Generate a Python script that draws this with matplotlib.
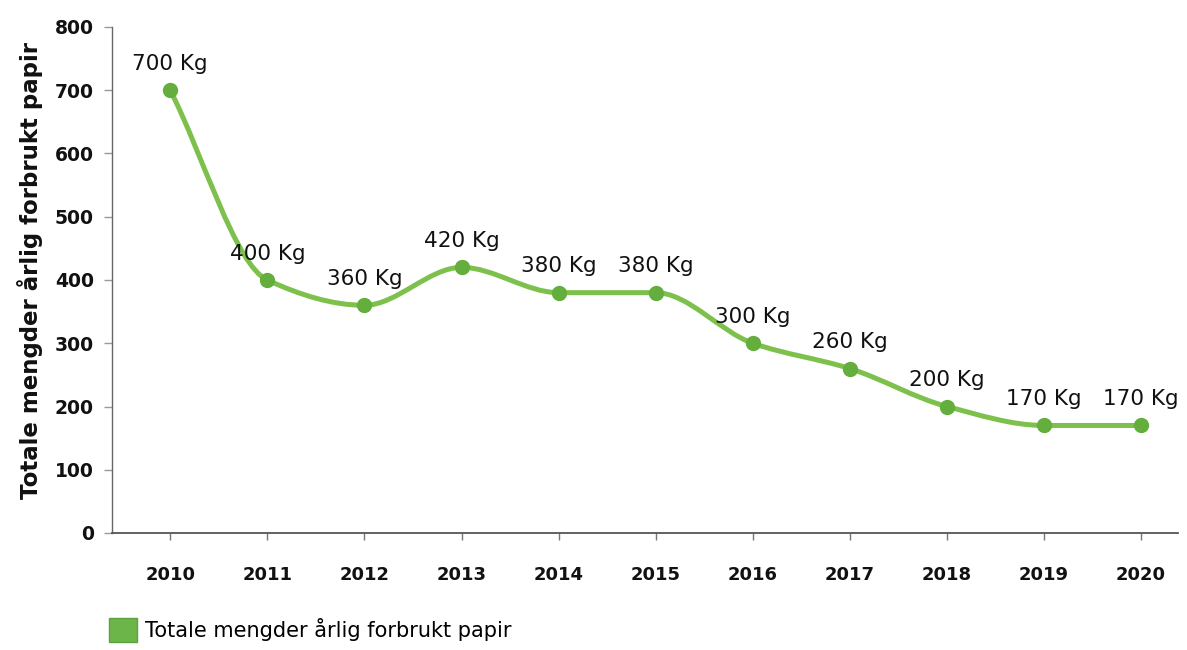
import numpy as np
import matplotlib
matplotlib.use("Agg")
import matplotlib.pyplot as plt
from matplotlib.path import Path
from matplotlib.patches import PathPatch, Patch

years = ["2010", "2011", "2012", "2013", "2014", "2015", "2016", "2017", "2018", "2019", "2020"]
values = [700, 400, 360, 420, 380, 380, 300, 260, 200, 170, 170]
point_labels = ["700 Kg", "400 Kg", "360 Kg", "420 Kg", "380 Kg", "380 Kg",
                "300 Kg", "260 Kg", "200 Kg", "170 Kg", "170 Kg"]
y_ticks = [0, 100, 200, 300, 400, 500, 600, 700, 800]
series_name = "Totale mengder årlig forbrukt papir"
y_title = "Totale mengder årlig forbrukt papir"

LINE = "#7dc04b"
MARK = "#63ae3d"

plt.rcParams["font.family"] = ["DejaVu Sans"]
fig = plt.figure(figsize=(11.87, 6.5), dpi=100)
ax = fig.add_axes([112 / 1187, 1 - 533 / 650, (1178 - 112) / 1187, (533 - 27) / 650])

x = np.arange(len(values), dtype=float)
y = np.array(values, dtype=float)

# monotone cubic (PCHIP-style) tangents for a smooth spline rendering
d = np.diff(y)
m = np.zeros_like(y)
m[0] = d[0]
m[-1] = d[-1]
for i in range(1, len(y) - 1):
    if d[i - 1] * d[i] <= 0:
        m[i] = 0.0
    else:
        m[i] = 2.0 / (1.0 / d[i - 1] + 1.0 / d[i])

verts = [(x[0], y[0])]
codes = [Path.MOVETO]
for i in range(len(y) - 1):
    verts += [(x[i] + 1 / 3, y[i] + m[i] / 3),
              (x[i + 1] - 1 / 3, y[i + 1] - m[i + 1] / 3),
              (x[i + 1], y[i + 1])]
    codes += [Path.CURVE4] * 3
ax.add_patch(PathPatch(Path(verts, codes), facecolor="none", edgecolor=LINE,
                       lw=3.6, capstyle="round", joinstyle="round", zorder=2))
ax.plot(x, y, linestyle="none", marker="o", markersize=10,
        markerfacecolor=MARK, markeredgecolor=MARK, zorder=3)

for xi, yi, lab in zip(x, y, point_labels):
    ax.annotate(lab, (xi, yi), xytext=(0, 19), textcoords="offset points",
                ha="center", va="center", fontsize=15.5, color="#111111", zorder=4)

ax.set_xlim(-0.6, 10.38)
ax.set_ylim(0, 800)
ax.set_xticks(x)
ax.set_xticklabels(years, fontsize=13, fontweight="bold", color="#111111")
ax.set_yticks(y_ticks)
ax.set_yticklabels([str(t) for t in y_ticks], fontsize=13.5, fontweight="bold", color="#111111")
ax.tick_params(axis="x", length=5, width=1, color="#777777", pad=19)
ax.tick_params(axis="y", length=6, width=1, color="#999999", pad=7)

for s in ["top", "right"]:
    ax.spines[s].set_visible(False)
ax.spines["left"].set_color("#666666")
ax.spines["left"].set_linewidth(1.0)
ax.spines["bottom"].set_color("#555555")
ax.spines["bottom"].set_linewidth(1.3)

fig.text(30 / 1187, 1 - 270 / 650, y_title, rotation=90, ha="center", va="center",
         fontsize=16.5, fontweight="bold", color="#111111")

handle = Patch(facecolor="#6cb548", edgecolor="#5fa33f", label=series_name)
fig.legend(handles=[handle], loc="center left", bbox_to_anchor=(109 / 1187, 1 - 630 / 650),
           frameon=False, fontsize=15, handlelength=1.35, handleheight=1.45,
           handletextpad=0.4, borderpad=0, borderaxespad=0)

fig.savefig("out.png", dpi=100, facecolor="white")
